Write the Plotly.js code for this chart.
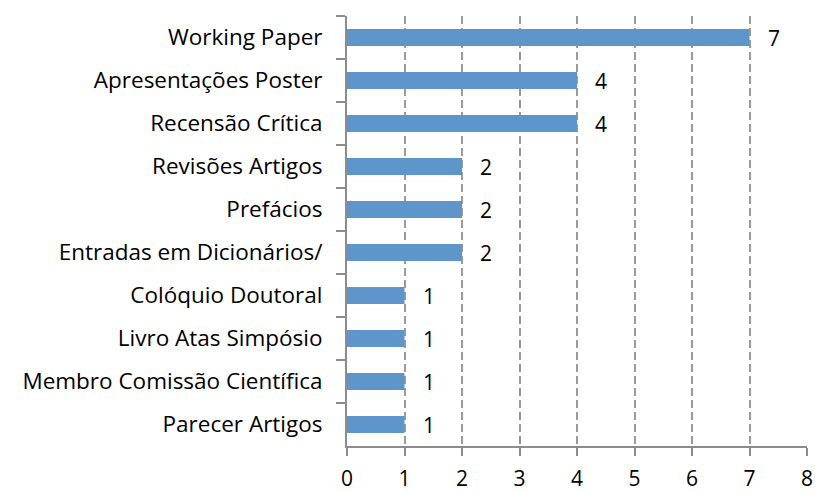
<!DOCTYPE html>
<html><head><meta charset="utf-8">
<script src="https://cdn.plot.ly/plotly-3.0.1.min.js"></script>
<style>html,body{margin:0;padding:0;background:#fff;}#chart{width:815px;height:492px;}</style>
</head><body><div id="chart"></div>
<script>
const categories = ["Working Paper","Apresentações Poster","Recensão Crítica","Revisões Artigos","Prefácios","Entradas em Dicionários/","Colóquio Doutoral","Livro Atas Simpósio","Membro Comissão Científica","Parecer Artigos"];
const values = [7,4,4,2,2,2,1,1,1,1];
const xTicks = [0,1,2,3,4,5,6,7,8];

const font = {family: "'Open Sans', sans-serif", size: 22.5, color: "#000"};
const numFont = {family: "'Open Sans', sans-serif", size: 21, color: "#000"};

const annotations = categories.map((c, i) => ({
  x: values[i], y: c, xref: "x", yref: "y", text: String(values[i]),
  showarrow: false, xanchor: "left", xshift: 16, font: numFont
}));

Plotly.newPlot("chart", [{
  type: "bar", orientation: "h", x: values, y: categories,
  marker: {color: "#5E95CA"}, hoverinfo: "none"
}], {
  width: 815, height: 492,
  margin: {l: 347, r: 8, t: 16, b: 46, pad: 0},
  paper_bgcolor: "#fff", plot_bgcolor: "#fff",
  bargap: 0.6, showlegend: false,
  font: font,
  xaxis: {range: [0, 8], tickvals: xTicks, ticktext: xTicks.map(String),
    showgrid: true, gridcolor: "#9a9a9a", griddash: "8px,4px", gridwidth: 2,
    showline: true, linecolor: "#8c8c8c", linewidth: 2,
    ticks: "outside", ticklen: 8, tickcolor: "#8c8c8c", tickwidth: 2,
    zeroline: false, tickfont: numFont, ticklabelstandoff: 5, fixedrange: true},
  yaxis: {type: "category", autorange: "reversed", tickson: "boundaries",
    showline: true, linecolor: "#8c8c8c", linewidth: 2,
    ticks: "outside", ticklen: 9, tickcolor: "#8c8c8c", tickwidth: 2,
    showgrid: false, zeroline: false, tickfont: font, ticklabelstandoff: 18, fixedrange: true},
  annotations: annotations
}, {staticPlot: true});
</script></body></html>
